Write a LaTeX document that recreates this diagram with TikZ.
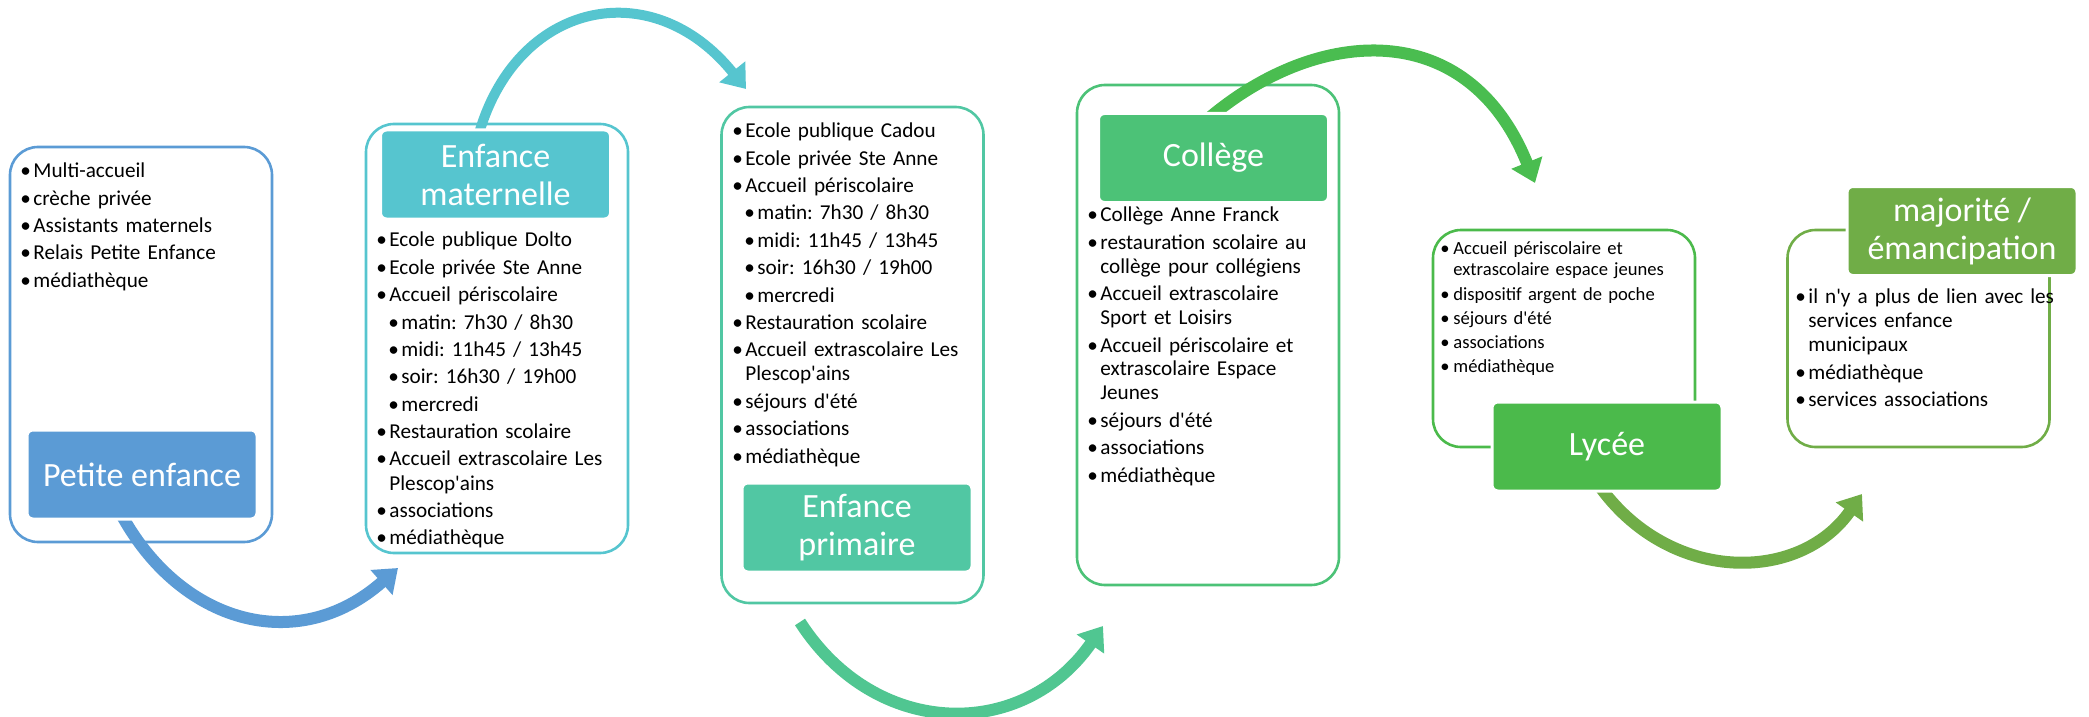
\documentclass[tikz,border=0pt]{standalone}
\usepackage{fontspec}
\setmainfont{Carlito}
\usetikzlibrary{arrows.meta}
\definecolor{pecol}{HTML}{5B9BD5}
\definecolor{emcol}{HTML}{56C5CF}
\definecolor{epcol}{HTML}{51C7A3}
\definecolor{cocol}{HTML}{4CC277}
\definecolor{lycol}{HTML}{4BBA4B}
\definecolor{macol}{HTML}{70AD47}
\definecolor{epflow}{HTML}{50C691}
\definecolor{coflow}{HTML}{4ABD50}
\newcommand*{\apo}{\textquotesingle}
\newcommand*{\itm}[1]{\par\hangindent=6.5pt\hangafter=1\noindent\makebox[6.5pt][l]{\textbullet}\strut#1}
\newcommand*{\subitm}[1]{\par\hangindent=12.5pt\hangafter=1\noindent\hspace*{6pt}\makebox[6.5pt][l]{\textbullet}\strut#1}

\begin{document}
\frenchspacing
\begin{tikzpicture}[x=0.5pt,y=0.5pt,
    frame/.style={draw=#1, line width=1.3pt, rounded corners=14pt, minimum width=131pt},
    head/.style={fill=#1, draw=white, line width=1.5pt, rounded corners=3pt,
        minimum width=115pt, minimum height=44.5pt, text=white, align=center,
        font=\fontsize{17}{19}\selectfont},
    list/.style={anchor=north west, inner sep=0pt, text width=135pt, align=left,
        font=\fontsize{10.6}{12}\selectfont,
        execute at begin node=\setlength{\parskip}{1.7pt}},
    smalllist/.style={list, font=\fontsize{9.3}{10.5}\selectfont,
        execute at begin node=\setlength{\parskip}{1.65pt}},
    curvearrow/.style={draw=#1, line width=6pt, -{Triangle[length=11pt,width=16pt]}}]
    \useasboundingbox (0,0) rectangle (2089,-717);

    \node[frame=pecol, minimum height=197.5pt] (pe-box) at (141,-344.5) {};
    \node[frame=emcol, minimum height=214.5pt] (em-box) at (497,-338.5) {};
    \node[frame=epcol, minimum height=248pt] (ep-box) at (852.5,-355) {};
    \node[frame=cocol, minimum height=250pt] (co-box) at (1208,-335) {};
    \node[frame=lycol, minimum height=108.5pt] (ly-box) at (1564,-338.5) {};
    \node[frame=macol, minimum height=108.5pt] (ma-box) at (1918.5,-338.5) {};

    \node[list] (pe-list) at (20,-150) {\itm{Multi-accueil}\itm{crèche privée}%
        \itm{Assistants maternels}\itm{Relais Petite Enfance}\itm{médiathèque}};
    \node[list] (em-list) at (376,-219) {\itm{Ecole publique Dolto}%
        \itm{Ecole privée Ste Anne}\itm{Accueil périscolaire}%
        \subitm{matin: 7h30 / 8h30}\subitm{midi: 11h45 / 13h45}%
        \subitm{soir: 16h30 / 19h00}\subitm{mercredi}%
        \itm{Restauration scolaire}\itm{Accueil extrascolaire Les\newline Plescop\apo ains}%
        \itm{associations}\itm{médiathèque}};
    \node[list] (ep-list) at (732,-110) {\itm{Ecole publique Cadou}%
        \itm{Ecole privée Ste Anne}\itm{Accueil périscolaire}%
        \subitm{matin: 7h30 / 8h30}\subitm{midi: 11h45 / 13h45}%
        \subitm{soir: 16h30 / 19h00}\subitm{mercredi}%
        \itm{Restauration scolaire}\itm{Accueil extrascolaire Les\newline Plescop\apo ains}%
        \itm{séjours d\apo été}\itm{associations}\itm{médiathèque}};
    \node[list] (co-list) at (1087,-194) {\itm{Collège Anne Franck}%
        \itm{restauration scolaire au\newline collège pour collégiens}%
        \itm{Accueil extrascolaire\newline Sport et Loisirs}%
        \itm{Accueil périscolaire et\newline extrascolaire Espace\newline Jeunes}%
        \itm{séjours d\apo été}\itm{associations}\itm{médiathèque}};
    \node[smalllist] (ly-list) at (1440,-230) {%
        \itm{Accueil périscolaire et\newline extrascolaire espace jeunes}%
        \itm{dispositif argent de poche}\itm{séjours d\apo été}%
        \itm{associations}\itm{médiathèque}};
    \node[list] (ma-list) at (1795,-276) {%
        \itm{il n\apo y a plus de lien avec les\newline services enfance\newline municipaux}%
        \itm{médiathèque}\itm{services associations}};

    \coordinate (pe-out) at (120,-512);
    \coordinate (em-in) at (398,-568);
    \coordinate (em-out) at (478,-137);
    \coordinate (ep-in) at (746,-89);
    \coordinate (ep-out) at (800,-622);
    \coordinate (co-in) at (1103,-626);
    \coordinate (co-out) at (1209,-118);
    \coordinate (ly-in) at (1535,-183);
    \coordinate (ly-out) at (1598,-484);
    \coordinate (ma-in) at (1862,-494);

    \draw[curvearrow=pecol] (pe-out) .. controls (179,-623) and (297,-657) .. (em-in);
    \draw[curvearrow=emcol, line width=5pt] (em-out) .. controls (515,-1) and (652,28) .. (ep-in);
    \draw[curvearrow=epflow] (ep-out) .. controls (876,-740) and (1023,-741) .. (co-in);
    \draw[curvearrow=coflow] (co-out) .. controls (1318,-26) and (1468,-16) .. (ly-in);
    \draw[curvearrow=macol] (ly-out) .. controls (1668,-584) and (1799,-584) .. (ma-in);

    \node[head=pecol] (pe) at (142,-474.5) {Petite enfance};
    \node[head=emcol] (em) at (495.5,-174.5) {Enfance\\maternelle};
    \node[head=epcol] (ep) at (857,-527.5) {Enfance\\primaire};
    \node[head=cocol] (co) at (1213.5,-158) {Collège};
    \node[head=lycol] (ly) at (1607,-446.5) {Lycée};
    \node[head=macol] (ma) at (1962,-231) {majorité /\\émancipation};
\end{tikzpicture}
\end{document}
